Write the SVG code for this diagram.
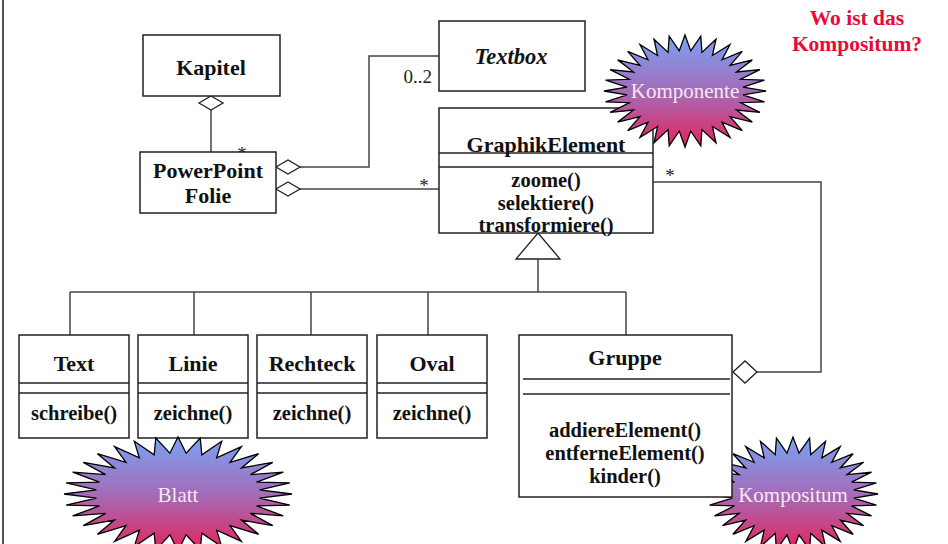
<svg xmlns="http://www.w3.org/2000/svg" width="948" height="544" viewBox="0 0 948 544">
<style>
.box{fill:#fff;stroke:#222;stroke-width:1.5}
.div{stroke:#222;stroke-width:1.5;fill:none}
.con{stroke:#444;stroke-width:1.5;fill:none}
.dia{fill:#fff;stroke:#222;stroke-width:1.3}
.nm{font-family:'Liberation Serif',serif;font-weight:bold;font-size:22px;fill:#111;text-anchor:middle}
.mt{font-family:'Liberation Serif',serif;font-weight:bold;font-size:20.5px;fill:#111;text-anchor:middle}
.mul{font-family:'Liberation Serif',serif;font-size:19px;fill:#222}
.burst{fill:url(#g);stroke:#000;stroke-width:1.3}
.bt{font-family:'Liberation Serif',serif;font-size:21px;fill:#f5e8f5;text-anchor:middle}
.it{font-family:'Liberation Serif',serif;font-style:italic;font-weight:600;font-size:22.5px;fill:#111;text-anchor:middle}
.q{font-family:'Liberation Serif',serif;font-weight:bold;font-size:21.5px;fill:#ea0a3a;text-anchor:middle}
</style>
<defs>
<linearGradient id="g" x1="0" y1="0" x2="0" y2="1">
<stop offset="0" stop-color="#7aa2f4"/>
<stop offset="0.5" stop-color="#a46cb8"/>
<stop offset="1" stop-color="#e4245c"/>
</linearGradient>
<polygon id="star" vector-effect="non-scaling-stroke" points="100,0 71.6,7.1 98.1,19.5 68.9,20.9 92.4,38.3 63.5,33.9 83.1,55.6 55.7,45.7 70.7,70.7 45.7,55.7 55.6,83.1 33.9,63.5 38.3,92.4 20.9,68.9 19.5,98.1 7.1,71.6 0,100 -7.1,71.6 -19.5,98.1 -20.9,68.9 -38.3,92.4 -33.9,63.5 -55.6,83.1 -45.7,55.7 -70.7,70.7 -55.7,45.7 -83.1,55.6 -63.5,33.9 -92.4,38.3 -68.9,20.9 -98.1,19.5 -71.6,7.1 -100,0 -71.6,-7.1 -98.1,-19.5 -68.9,-20.9 -92.4,-38.3 -63.5,-33.9 -83.1,-55.6 -55.7,-45.7 -70.7,-70.7 -45.7,-55.7 -55.6,-83.1 -33.9,-63.5 -38.3,-92.4 -20.9,-68.9 -19.5,-98.1 -7.1,-71.6 0,-100 7.1,-71.6 19.5,-98.1 20.9,-68.9 38.3,-92.4 33.9,-63.5 55.6,-83.1 45.7,-55.7 70.7,-70.7 55.7,-45.7 83.1,-55.6 63.5,-33.9 92.4,-38.3 68.9,-20.9 98.1,-19.5 71.6,-7.1"/>
</defs>
<rect width="948" height="544" fill="#fff"/>
<line x1="3" y1="0" x2="3" y2="544" stroke="#555" stroke-width="2"/>

<g id="connectors">
<line class="con" x1="211" y1="110" x2="211" y2="152"/>
<polyline class="con" points="300,167 369,167 369,56 439,56"/>
<line class="con" x1="300" y1="189" x2="439" y2="189"/>
<polyline class="con" points="653,182 821,182 821,372 757,372"/>
<line class="con" x1="538" y1="259" x2="538" y2="292"/>
<line class="con" x1="70" y1="292" x2="626" y2="292"/>
<line class="con" x1="70" y1="292" x2="70" y2="335"/>
<line class="con" x1="194" y1="292" x2="194" y2="335"/>
<line class="con" x1="311" y1="292" x2="311" y2="335"/>
<line class="con" x1="428" y1="292" x2="428" y2="335"/>
<line class="con" x1="626" y1="292" x2="626" y2="335"/>
<polygon class="dia" points="211,96 223,103 211,110 199,103"/>
<polygon class="dia" points="276,167 288,160 300,167 288,174"/>
<polygon class="dia" points="276,189 288,182 300,189 288,196"/>
<polygon class="dia" points="733,372 745,361 757,372 745,383"/>
<polygon class="dia" points="538,233 560,259 516,259"/>
<text class="mul" x="242" y="160" text-anchor="middle">*</text>
<text class="mul" x="432" y="83" text-anchor="end">0..2</text>
<text class="mul" x="424" y="192" text-anchor="middle">*</text>
<text class="mul" x="670" y="182" text-anchor="middle">*</text>
</g>

<g id="kapitel">
<rect class="box" x="143" y="35" width="137" height="61"/>
<text class="nm" x="211" y="75">Kapitel</text>
</g>

<g id="folie">
<rect class="box" x="140" y="152" width="136" height="61"/>
<text class="nm" x="208" y="178">PowerPoint</text>
<text class="nm" x="208" y="203">Folie</text>
</g>

<g id="textbox">
<rect class="box" x="439" y="21" width="146" height="70"/>
<text class="it" x="511" y="64">Textbox</text>
</g>

<g id="graphikelement">
<rect class="box" x="439" y="108" width="214" height="125"/>
<line class="div" x1="439" y1="153" x2="653" y2="153"/>
<line class="div" x1="439" y1="167" x2="653" y2="167"/>
<text class="nm" x="546" y="152">GraphikElement</text>
<text class="mt" x="546" y="187">zoome()</text>
<text class="mt" x="546" y="210">selektiere()</text>
<text class="mt" x="546" y="232">transformiere()</text>
</g>

<g id="komponente">
<use href="#star" class="burst" transform="translate(685,91) scale(0.81,0.56)"/>
<text class="bt" x="685" y="98">Komponente</text>
</g>

<g id="text">
<rect class="box" x="19" y="335" width="110" height="103"/>
<line class="div" x1="19" y1="383" x2="129" y2="383"/>
<line class="div" x1="19" y1="393" x2="129" y2="393"/>
<text class="nm" x="74" y="371">Text</text>
<text class="mt" x="74" y="420">schreibe()</text>
</g>

<g id="linie">
<rect class="box" x="138" y="335" width="110" height="103"/>
<line class="div" x1="138" y1="383" x2="248" y2="383"/>
<line class="div" x1="138" y1="393" x2="248" y2="393"/>
<text class="nm" x="193" y="371">Linie</text>
<text class="mt" x="193" y="420">zeichne()</text>
</g>

<g id="rechteck">
<rect class="box" x="257" y="335" width="110" height="103"/>
<line class="div" x1="257" y1="383" x2="367" y2="383"/>
<line class="div" x1="257" y1="393" x2="367" y2="393"/>
<text class="nm" x="312" y="371">Rechteck</text>
<text class="mt" x="312" y="420">zeichne()</text>
</g>

<g id="oval">
<rect class="box" x="377" y="335" width="110" height="103"/>
<line class="div" x1="377" y1="383" x2="487" y2="383"/>
<line class="div" x1="377" y1="393" x2="487" y2="393"/>
<text class="nm" x="432" y="371">Oval</text>
<text class="mt" x="432" y="420">zeichne()</text>
</g>

<g id="blatt">
<use href="#star" class="burst" transform="translate(178,494) scale(1.14,0.57)"/>
<text class="bt" x="178" y="502">Blatt</text>
</g>

<g id="kompositum">
<use href="#star" class="burst" transform="translate(793,494) scale(0.85,0.57)"/>
<text class="bt" x="793" y="502">Kompositum</text>
</g>

<g id="gruppe">
<rect class="box" x="519" y="335" width="213" height="162"/>
<line class="div" x1="523" y1="379" x2="730" y2="379"/>
<line class="div" x1="523" y1="394" x2="730" y2="394"/>
<text class="nm" x="625" y="365">Gruppe</text>
<text class="mt" x="625" y="437">addiereElement()</text>
<text class="mt" x="625" y="460">entferneElement()</text>
<text class="mt" x="625" y="483">kinder()</text>
</g>

<g id="frage">
<text class="q" x="857" y="25">Wo ist das</text>
<text class="q" x="857" y="51">Kompositum?</text>
</g>
</svg>
